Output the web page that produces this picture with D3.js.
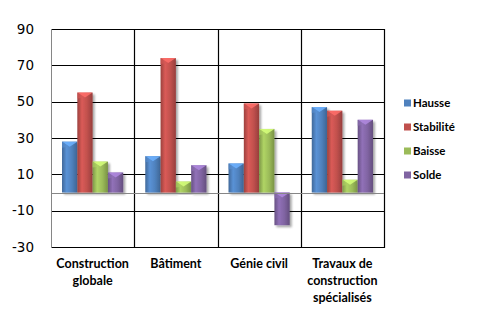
<!DOCTYPE html>
<html>
<head>
<meta charset="utf-8">
<script src="https://cdn.jsdelivr.net/npm/d3@7"></script>
<style>
  html, body { margin: 0; padding: 0; background: #fff; }
  svg { display: block; }
</style>
</head>
<body>
<svg id="chart" width="484" height="329"></svg>
<script>
// Solde d'opinion par secteur
const categories = [
  ["Construction", "globale"],
  ["Bâtiment"],
  ["Génie civil"],
  ["Travaux de", "construction", "spécialisés"]
];
const seriesNames = ["Hausse", "Stabilité", "Baisse", "Solde"];
const hausse    = [28, 20, 16, 47];
const stabilite = [55, 74, 49, 45];
const baisse    = [17, 6, 35, 7];
const solde     = [11, 15, -18, 40];
const yTicks    = [-30, -10, 10, 30, 50, 70, 90];
const colors    = ["#4F81BD", "#C0504D", "#9BBB59", "#8064A2"];

const seriesValues = [hausse, stabilite, baisse, solde];
const catKeys = categories.map(c => c.join(" "));

const svg = d3.select("#chart");
const plotLeft = 51, plotRight = 384, plotTop = 29, plotBottom = 247;

const x0 = d3.scaleBand().domain(catKeys).range([plotLeft, plotRight]).paddingInner(0).paddingOuter(0);
const x1 = d3.scaleBand().domain(seriesNames).range([0, x0.bandwidth()]).paddingInner(0).paddingOuter(0.72);
const y = d3.scaleLinear().domain([-30, 90]).range([plotBottom, plotTop]);

// Gradients giving bars a rounded, bevelled look
const defs = svg.append("defs");
colors.forEach((c, i) => {
  const base = d3.color(c);
  const g = defs.append("linearGradient").attr("id", "grad" + i)
    .attr("x1", "0%").attr("x2", "100%").attr("y1", "0%").attr("y2", "0%");
  g.append("stop").attr("offset", "0%").attr("stop-color", base.darker(0.6));
  g.append("stop").attr("offset", "30%").attr("stop-color", base.brighter(0.35));
  g.append("stop").attr("offset", "65%").attr("stop-color", base);
  g.append("stop").attr("offset", "100%").attr("stop-color", base.darker(0.7));
});
const shadow = defs.append("filter").attr("id", "shadow")
  .attr("x", "-30%").attr("y", "-10%").attr("width", "160%").attr("height", "130%");
shadow.append("feGaussianBlur").attr("in", "SourceAlpha").attr("stdDeviation", 1.2);
shadow.append("feOffset").attr("dx", 1.5).attr("dy", 1.5).attr("result", "b");
shadow.append("feComponentTransfer").append("feFuncA").attr("type", "linear").attr("slope", 0.35);
const merge = shadow.append("feMerge");
merge.append("feMergeNode");
merge.append("feMergeNode").attr("in", "SourceGraphic");

// Horizontal gridlines
svg.append("g").selectAll("line").data(yTicks).join("line")
  .attr("x1", plotLeft).attr("x2", plotRight)
  .attr("y1", d => Math.round(y(d)) + 0.5).attr("y2", d => Math.round(y(d)) + 0.5)
  .attr("stroke", "#000").attr("stroke-width", 1.2);

// Category separators and right border
const seps = catKeys.slice(1).map(k => x0(k)).concat([plotRight]);
svg.append("g").selectAll("line").data(seps).join("line")
  .attr("x1", d => Math.round(d) + 0.5).attr("x2", d => Math.round(d) + 0.5)
  .attr("y1", plotTop).attr("y2", plotBottom + 1)
  .attr("stroke", "#000").attr("stroke-width", 1.2);

// Bars
const groups = svg.append("g").selectAll("g").data(catKeys).join("g")
  .attr("transform", k => `translate(${x0(k)},0)`);

groups.each(function (k, ci) {
  const g = d3.select(this);
  seriesNames.forEach((s, si) => {
    const v = seriesValues[si][ci];
    const bx = x1(s), bw = x1.bandwidth();
    const y0 = y(0), yv = y(v);
    const yTop = Math.min(y0, yv), h = Math.abs(yv - y0);
    const bar = g.append("g").attr("filter", "url(#shadow)");
    bar.append("rect")
      .attr("x", bx).attr("y", yTop).attr("width", bw).attr("height", h)
      .attr("fill", `url(#grad${si})`);
    // lighter bevel cap on the top face
    const capH = Math.min(5, h);
    const base = d3.color(colors[si]);
    bar.append("path")
      .attr("d", `M${bx},${yTop} L${bx + bw},${yTop} L${bx + bw / 2},${yTop + capH} Z`)
      .attr("fill", base.brighter(0.9)).attr("opacity", 0.85);
    bar.append("path")
      .attr("d", `M${bx},${yTop} L${bx + bw / 2},${yTop + capH} L${bx},${yTop + capH + 1} Z`)
      .attr("fill", base.brighter(0.3)).attr("opacity", 0.6);
  });
});

// Zero axis and left axis (grey)
svg.append("line")
  .attr("x1", plotLeft).attr("x2", plotRight)
  .attr("y1", Math.round(y(0)) + 0.5).attr("y2", Math.round(y(0)) + 0.5)
  .attr("stroke", "#868686");
svg.append("line")
  .attr("x1", plotLeft + 0.5).attr("x2", plotLeft + 0.5)
  .attr("y1", plotTop).attr("y2", plotBottom + 1)
  .attr("stroke", "#868686");

// Y axis labels (plain hyphen for negatives)
const yAxis = d3.axisLeft(y).tickValues(yTicks).tickSize(0).tickPadding(17)
  .tickFormat(d => String(d));
const ya = svg.append("g").attr("transform", `translate(${plotLeft},0)`).call(yAxis);
ya.select(".domain").remove();
ya.selectAll("text")
  .attr("font-family", "'DejaVu Sans', Verdana, sans-serif")
  .attr("font-size", 13.5).attr("fill", "#000");

// Category labels
const catText = svg.append("g").selectAll("text").data(categories).join("text")
  .attr("x", (d, i) => x0(catKeys[i]) + x0.bandwidth() / 2)
  .attr("y", 268)
  .attr("text-anchor", "middle")
  .attr("font-family", "Lato, 'Open Sans', sans-serif")
  .attr("font-weight", "bold")
  .attr("font-size", 12.5)
  .attr("fill", "#000");
catText.each(function (lines) {
  d3.select(this).selectAll("tspan").data(lines).join("tspan")
    .attr("x", d3.select(this).attr("x"))
    .attr("dy", (d, i) => i === 0 ? 0 : 17)
    .text(d => d);
});

// Legend
const legend = svg.append("g").selectAll("g").data(seriesNames).join("g")
  .attr("transform", (d, i) => `translate(404,${103 + i * 24})`);
legend.append("rect")
  .attr("x", 0).attr("y", -3.5).attr("width", 7).attr("height", 7)
  .attr("fill", (d, i) => colors[i]);
legend.append("text")
  .attr("x", 9).attr("y", 4)
  .attr("font-family", "Lato, 'Open Sans', sans-serif")
  .attr("font-weight", "bold")
  .attr("font-size", 11.5)
  .attr("fill", "#000")
  .text(d => d);
</script>
</body>
</html>
